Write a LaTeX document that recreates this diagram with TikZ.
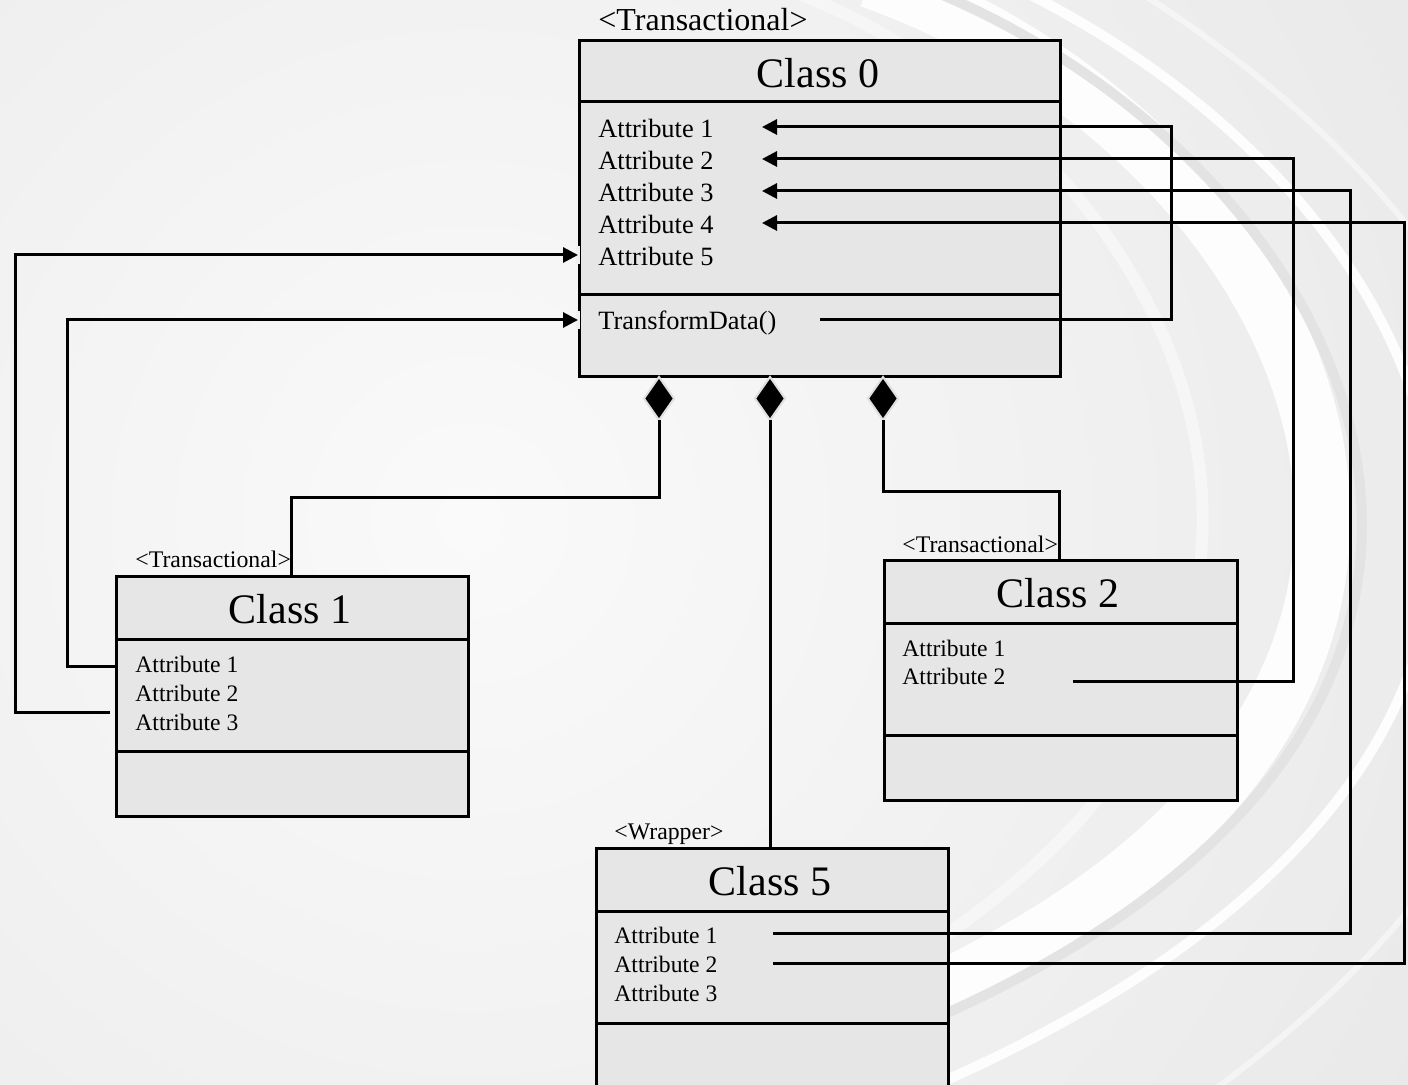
\documentclass[tikz,border=0pt]{standalone}
\usepackage{fontspec}
\setmainfont{Liberation Serif}
\usetikzlibrary{arrows.meta}
\definecolor{boxfill}{HTML}{E6E6E6}
\definecolor{bgout}{HTML}{E0E0E0}
\definecolor{bgin}{HTML}{FAFAFA}
\definecolor{swgray}{HTML}{E3E3E3}
\begin{document}
\begin{tikzpicture}[x=0.5pt,y=-0.5pt,
  classbox/.style={draw=black,fill=boxfill,line width=1.5pt,anchor=north west,inner sep=0pt},
  sep/.style={line width=1.5pt},
  conn/.style={line width=1.5pt},
  arr/.style={line width=1.5pt,-{Triangle[length=7.5pt,width=7.5pt]}},
  title/.style={font=\fontsize{21}{21}\selectfont,inner sep=0pt,anchor=base},
  attrL/.style={font=\fontsize{13.2}{13.2}\selectfont,inner sep=0pt,anchor=base west},
  attrS/.style={font=\fontsize{11.8}{11.8}\selectfont,inner sep=0pt,anchor=base west},
  stereoL/.style={font=\fontsize{16}{16}\selectfont,inner sep=0pt,anchor=base west},
  stereoS/.style={font=\fontsize{11.9}{11.9}\selectfont,inner sep=0pt,anchor=base west},
  comp/.style={fill=black,draw=gray!25,line width=1pt}
]
\useasboundingbox (0,0) rectangle (1408,1085);
% background
\begin{scope}
\clip (0,0) rectangle (1408,1085);
\fill[bgout] (0,0) rectangle (1408,1085);
\fill[inner color=bgin,outer color=bgout] (470,520) circle (1700);
\draw[white,line width=6pt,opacity=0.45] (760,-20) .. controls (1200,120) and (1540,780) .. (620,1090);
\draw[white,line width=28pt,opacity=0.9] (870,-20) .. controls (1350,150) and (1650,800) .. (700,1080);
\draw[swgray,line width=5pt] (905,-20) .. controls (1390,160) and (1690,800) .. (740,1090);
\draw[white,line width=5pt,opacity=0.9] (1000,-20) .. controls (1470,200) and (1720,760) .. (900,1100);
\draw[white,line width=3pt,opacity=0.45] (1120,-20) .. controls (1560,250) and (1760,700) .. (1200,1100);
\end{scope}

% Class 0
\node[classbox,minimum width=240.5pt,minimum height=168pt] (c0) at (578,39) {};
\draw[sep] (578,102) -- (1059,102);
\draw[sep] (578,295) -- (1059,295);
\node[stereoL] (c0s) at (598,31) {<Transactional>};
\node[title] (c0t) at (818,88) {Class 0};
\node[attrL] (c0a1) at (598,138) {Attribute 1};
\node[attrL] (c0a2) at (598,170) {Attribute 2};
\node[attrL] (c0a3) at (598,202) {Attribute 3};
\node[attrL] (c0a4) at (598,234) {Attribute 4};
\node[attrL] (c0a5) at (598,266) {Attribute 5};
\node[attrL] (c0m1) at (598,330) {TransformData()};

% Class 1
\node[classbox,minimum width=176pt,minimum height=120pt] (c1) at (115,575) {};
\draw[sep] (115,639) -- (467,639);
\draw[sep] (115,751) -- (467,751);
\node[stereoS] (c1s) at (135,567) {<Transactional>};
\node[title] (c1t) at (290,623) {Class 1};
\node[attrS] (c1a1) at (135,672) {Attribute 1};
\node[attrS] (c1a2) at (135,701) {Attribute 2};
\node[attrS] (c1a3) at (135,730) {Attribute 3};

% Class 2
\node[classbox,minimum width=176.5pt,minimum height=120pt] (c2) at (883,559) {};
\draw[sep] (883,623) -- (1236,623);
\draw[sep] (883,735) -- (1236,735);
\node[stereoS] (c2s) at (902,552) {<Transactional>};
\node[title] (c2t) at (1058,607) {Class 2};
\node[attrS] (c2a1) at (902,656) {Attribute 1};
\node[attrS] (c2a2) at (902,684) {Attribute 2};

% Class 5
\node[classbox,minimum width=176pt,minimum height=125pt] (c5) at (595,847) {};
\draw[sep] (595,911) -- (947,911);
\draw[sep] (595,1023) -- (947,1023);
\node[stereoS] (c5s) at (614,839) {<Wrapper>};
\node[title] (c5t) at (770,895) {Class 5};
\node[attrS] (c5a1) at (614,943) {Attribute 1};
\node[attrS] (c5a2) at (614,972) {Attribute 2};
\node[attrS] (c5a3) at (614,1001) {Attribute 3};

% composition diamonds
\draw[comp] (659,377) -- (674,398.5) -- (659,420) -- (644,398.5) -- cycle;
\draw[comp] (770,377) -- (785,398.5) -- (770,420) -- (755,398.5) -- cycle;
\draw[comp] (883,377) -- (898,398.5) -- (883,420) -- (868,398.5) -- cycle;
\coordinate (d1) at (659,420);
\coordinate (d2) at (770,420);
\coordinate (d3) at (883,420);

% composition lines
\draw[conn] (d1) -- (659,497) -- (291,497) -- (c1.north -| 291,0);
\draw[conn] (d2) -- (c5.north -| 770,0);
\draw[conn] (d3) -- (883,491) -- (1059,491) -- (c2.north -| 1059,0);

% connector end points
\coordinate (t1) at (762,127);
\coordinate (t2) at (762,159);
\coordinate (t3) at (762,191);
\coordinate (t4) at (762,223);
\coordinate (t5) at (578,255);
\coordinate (tm) at (578,320);
\coordinate (sm) at (820,320);
\coordinate (s2) at (1073,681);
\coordinate (s51) at (773,933);
\coordinate (s52) at (773,963);
\coordinate (s11) at (115,666);
\coordinate (s13) at (110,712);

% gaps in border at left arrow tips
\draw[gray!12,line width=1.6pt] (578,246) -- (578,264);
\draw[gray!12,line width=1.6pt] (578,311) -- (578,329);

% connectors
\draw[arr] (sm) -- (1171,320) -- (1171,127) -- (t1);
\draw[arr] (s2) -- (1293,681) -- (1293,159) -- (t2);
\draw[arr] (s51) -- (1350,933) -- (1350,191) -- (t3);
\draw[arr] (s52) -- (1404,963) -- (1404,223) -- (t4);
\draw[arr] (s13) -- (15,712) -- (15,255) -- (t5);
\draw[arr] (s11) -- (67,666) -- (67,320) -- (tm);
\end{tikzpicture}
\end{document}
